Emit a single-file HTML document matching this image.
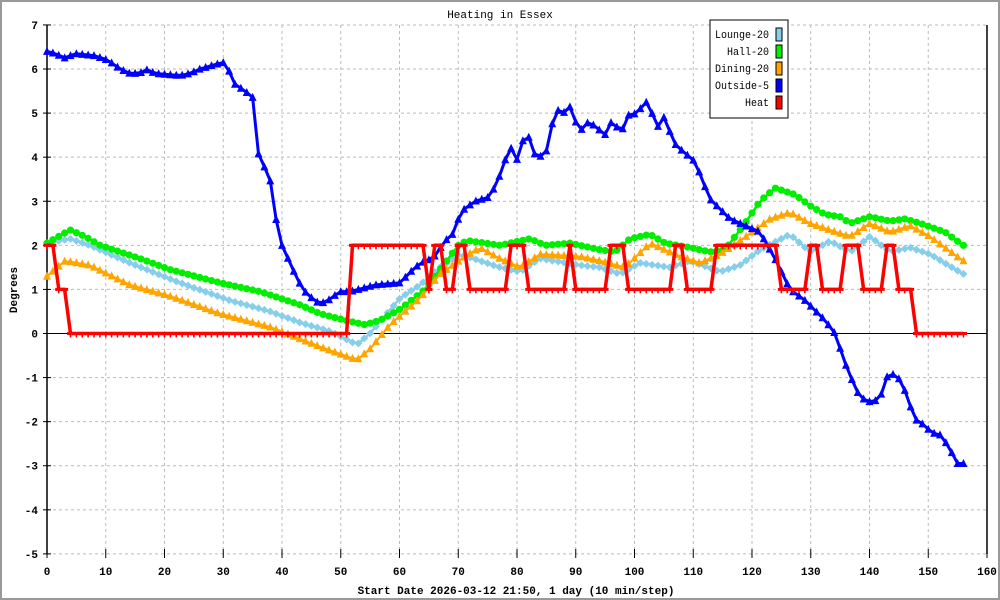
<!DOCTYPE html>
<html><head><meta charset="utf-8"><style>
html,body{margin:0;padding:0;background:#fff}
svg{display:block}
text{font-family:"Liberation Mono",monospace;font-size:11px;fill:#000}
</style></head><body>
<svg id="s" width="1000" height="600" xmlns="http://www.w3.org/2000/svg">
<rect x="1" y="1" width="998" height="598" fill="#fff" stroke="#999" stroke-width="2"/>
<g id="grid"></g>
<g id="series"></g>
<text x="500" y="18" text-anchor="middle" font-size="13">Heating in Essex</text>
<text x="516" y="594" text-anchor="middle" font-weight="bold">Start Date 2026-03-12 21:50, 1 day (10 min/step)</text>
<text x="17" y="290" text-anchor="middle" font-weight="bold" transform="rotate(-90 17 290)">Degrees</text>
<g>
<rect x="710" y="20" width="78" height="98" fill="#fff" stroke="#000"/>
<text x="715" y="38" textLength="54" lengthAdjust="spacingAndGlyphs" font-size="10.5">Lounge-20</text>
<text x="727" y="55" textLength="42" lengthAdjust="spacingAndGlyphs" font-size="10.5">Hall-20</text>
<text x="715" y="72" textLength="54" lengthAdjust="spacingAndGlyphs" font-size="10.5">Dining-20</text>
<text x="715" y="89" textLength="54" lengthAdjust="spacingAndGlyphs" font-size="10.5">Outside-5</text>
<text x="745" y="106" textLength="24" lengthAdjust="spacingAndGlyphs" font-size="10.5">Heat</text>
<rect x="776" y="28" width="6" height="13" fill="#87ceeb" stroke="#000"/>
<rect x="776" y="45" width="6" height="13" fill="#00ee00" stroke="#000"/>
<rect x="776" y="62" width="6" height="13" fill="#ffa500" stroke="#000"/>
<rect x="776" y="79" width="6" height="13" fill="#0000ff" stroke="#000"/>
<rect x="776" y="96" width="6" height="13" fill="#ff0000" stroke="#000"/>
</g>
</svg>
<script>
var NS="http://www.w3.org/2000/svg";
var X0=47,XS=5.875,Y0=333.5,YS=44.08;
function px(i){return X0+XS*i}
function py(v){return Y0-YS*v}
function el(p,n,a){var e=document.createElementNS(NS,n);for(var k in a)e.setAttribute(k,a[k]);p.appendChild(e);return e}
var g=document.getElementById('grid');
for(var v=-5;v<=7;v++){var y=py(v);
 if(v!==0)el(g,'line',{x1:47,x2:987,y1:y,y2:y,stroke:'#bbb','stroke-dasharray':'3,3'});
 el(g,'line',{x1:43,x2:51,y1:y,y2:y,stroke:'#000'});
 var t=el(g,'text',{x:38,y:y+4,'text-anchor':'end','font-weight':'bold'});t.textContent=v;}
for(var x=0;x<=160;x+=10){var xx=px(x);
 if(x>0&&x<160)el(g,'line',{x1:xx,x2:xx,y1:25,y2:554,stroke:'#bbb','stroke-dasharray':'3,3'});
 el(g,'line',{x1:xx,x2:xx,y1:549,y2:558,stroke:'#000'});
 var t=el(g,'text',{x:xx,y:575,'text-anchor':'middle','font-weight':'bold'});t.textContent=x;}
el(g,'line',{x1:47,x2:47,y1:25,y2:554,stroke:'#000','stroke-width':1.5});
el(g,'line',{x1:987,x2:987,y1:25,y2:554,stroke:'#000','stroke-width':1.5});
el(g,'line',{x1:47,x2:987,y1:Y0,y2:Y0,stroke:'#000'});
function interp(k,p){if(p<=k[0])return k[1];for(var j=0;j<k.length-2;j+=2){if(p>=k[j]&&p<=k[j+2]){return k[j+1]+(k[j+3]-k[j+1])*(p-k[j])/(k[j+2]-k[j]);}}return k[k.length-1];}
var outside=[47,6.4,55,6.35,65,6.25,75,6.35,95,6.3,108,6.2,120,6.0,130,5.9,140,5.9,145,6.0,155,5.9,180,5.85,190,5.9,200,6.0,215,6.1,224,6.15,228,6.05,232,5.7,245,5.5,253,5.35,258,4.1,270,3.5,276,2.6,282,2.0,290,1.6,298,1.2,305,0.95,312,0.8,318,0.7,325,0.7,340,0.95,350,0.95,375,1.1,400,1.15,415,1.5,425,1.65,433,1.7,445,2.1,455,2.3,460,2.75,475,3.0,490,3.1,500,3.6,510,4.25,517,3.95,522,4.35,528,4.5,535,4.05,545,4.0,556,5.15,562,4.9,568,5.25,580,4.55,585,4.8,597,4.7,604,4.45,610,4.8,622,4.6,628,4.95,638,5.0,645,5.3,652,5.0,658,4.7,663,4.95,675,4.3,682,4.15,695,3.9,710,3.05,730,2.6,760,2.3,775,1.7,790,1.0,805,0.75,825,0.3,835,0.0,848,-0.85,860,-1.45,870,-1.55,880,-1.5,885,-1.0,896,-0.9,905,-1.3,915,-1.95,920,-2.0,932,-2.25,940,-2.3,950,-2.6,956,-2.95,963,-2.95];
var hall=[47,2.05,70,2.35,85,2.2,100,2.0,140,1.7,170,1.45,220,1.15,260,0.95,300,0.65,320,0.45,345,0.3,365,0.2,380,0.3,400,0.55,425,1.0,445,1.6,460,2.05,470,2.1,500,2.0,530,2.15,545,2.0,570,2.05,600,1.9,615,1.85,630,2.15,650,2.25,665,2.05,690,1.95,710,1.85,725,1.9,745,2.5,760,3.0,775,3.3,795,3.15,810,2.9,825,2.7,840,2.65,850,2.5,870,2.65,890,2.55,905,2.6,920,2.5,945,2.3,963,2.0];
var dining=[47,1.3,65,1.65,90,1.55,130,1.1,170,0.85,220,0.45,270,0.15,320,-0.3,357,-0.6,370,-0.35,390,0.2,420,0.8,440,1.35,465,1.75,480,1.95,500,1.7,520,1.5,540,1.8,580,1.75,600,1.65,625,1.5,650,2.05,680,1.75,700,1.6,720,1.8,740,2.1,770,2.6,790,2.75,810,2.5,830,2.35,850,2.2,870,2.5,890,2.3,910,2.45,930,2.2,963,1.65];
var lounge=[47,2.05,70,2.15,90,2.0,130,1.6,180,1.15,230,0.75,270,0.5,300,0.25,330,0.05,357,-0.25,370,0.0,400,0.8,420,1.1,440,1.5,460,1.8,480,1.65,500,1.5,520,1.4,540,1.7,580,1.55,600,1.5,620,1.35,640,1.6,670,1.5,690,1.65,720,1.4,740,1.55,760,1.9,790,2.25,810,1.85,830,2.1,850,1.85,870,2.2,890,1.85,910,1.95,930,1.8,963,1.35];
var heatSeg=[53,2,66,1,349,0,426,2,433,1,441,2,453,1,466,2,507,1,526,2,567,1,571,2,607,1,624,2,671,1,684,2,712,1,777,2,807,1,820,2,842,1,858,2,882,1,894,2,911,1,2000,0];
function heat(p){for(var j=0;j<heatSeg.length;j+=2)if(p<heatSeg[j])return heatSeg[j+1];return 0}
var sg=document.getElementById('series');
function draw(fn,color,w,marker){var pts=[];for(var i=0;i<=156;i++){var p=px(i);pts.push([p,py(fn(p))]);}
 el(sg,'polyline',{points:pts.map(function(a){return a[0].toFixed(1)+','+a[1].toFixed(1)}).join(' '),fill:'none',stroke:color,'stroke-width':w,'stroke-linejoin':'round'});
 var d='';pts.forEach(function(a){var x=a[0],y=a[1];
  if(marker=='c')d+='M'+(x-3.6)+','+y+'a3.6,3.6 0 1,0 7.2,0a3.6,3.6 0 1,0 -7.2,0';
  else if(marker=='t')d+='M'+(x-4)+','+(y+3.5)+'L'+x+','+(y-4.5)+'L'+(x+4)+','+(y+3.5)+'Z';
  else if(marker=='d')d+='M'+(x-4)+','+y+'L'+x+','+(y-4)+'L'+(x+4)+','+y+'L'+x+','+(y+4)+'Z';
  else if(marker=='h')d+='M'+(x-3.5)+','+(y-1.5)+'h7v3h-7zM'+(x-0.8)+','+y+'h1.6v4h-1.6z';
 });
 el(sg,'path',{d:d,fill:color,stroke:'none'});}
draw(function(p){return interp(lounge,p)},'#87ceeb',2.5,'d');
draw(function(p){return interp(hall,p)},'#00ee00',2.5,'c');
draw(function(p){return interp(dining,p)},'#ffa500',2,'t');
draw(function(p){return interp(outside,p)},'#0000ff',3,'t');
draw(heat,'#ff0000',3.5,'h');
</script>
</body></html>
